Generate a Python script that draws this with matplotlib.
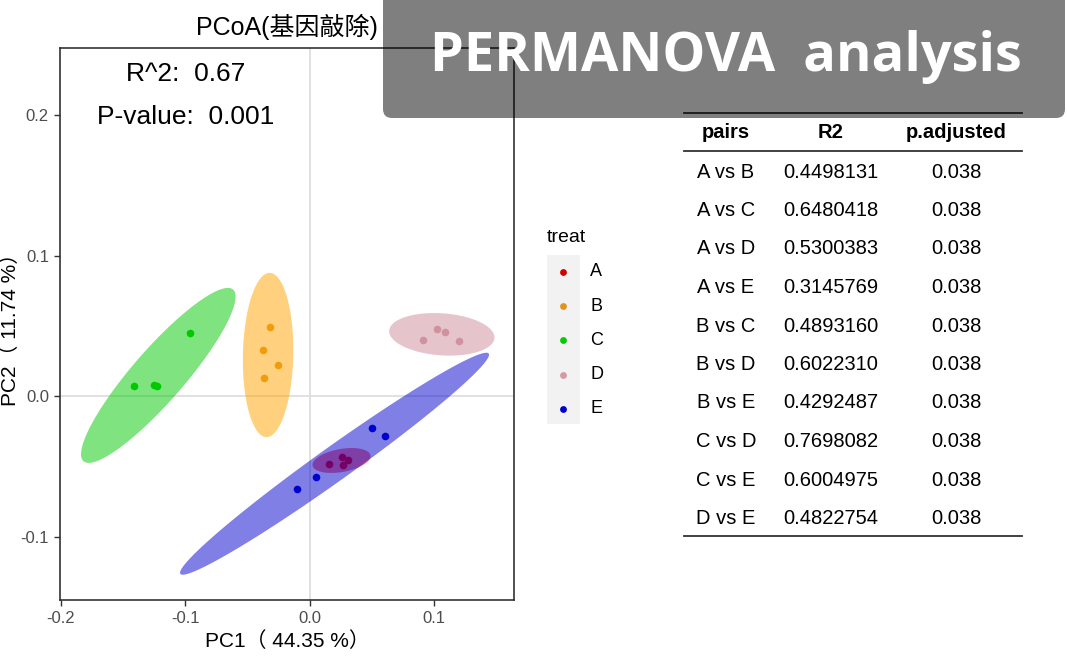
import numpy as np
import matplotlib
matplotlib.use("Agg")
import matplotlib.pyplot as plt
from matplotlib.patches import Polygon, Rectangle, FancyBboxPatch

plt.rcParams['font.family'] = ['Liberation Sans', 'Noto Sans CJK SC', 'DejaVu Sans']

# PCoA scores (PC1, PC2) per treatment
treats = ["A", "B", "C", "D", "E"]
pc1 = {"A": [0.0155, 0.0259, 0.0307, 0.0269],
       "B": [-0.0317, -0.0373, -0.0256, -0.0365],
       "C": [-0.0966, -0.1413, -0.1253, -0.1232],
       "D": [0.1021, 0.1083, 0.0907, 0.1200],
       "E": [0.0501, 0.0600, 0.0051, -0.0104]}
pc2 = {"A": [-0.0482, -0.0432, -0.0451, -0.0491],
       "B": [0.0493, 0.0332, 0.0221, 0.0133],
       "C": [0.0450, 0.0071, 0.0078, 0.0071],
       "D": [0.0477, 0.0456, 0.0399, 0.0391],
       "E": [-0.0228, -0.0280, -0.0572, -0.0662]}

# ellipse per group: centre, semi-major vector, semi-minor vector (data units)
ell_centre = {"A": (0.0254, -0.0456), "B": (-0.0336, 0.0294), "C": (-0.1218, 0.0149),
              "D": (0.1060, 0.0441), "E": (0.0198, -0.0479)}
ell_major = {"A": (0.02325, 0.00365), "B": (0.00137, 0.0584), "C": (0.0601, 0.0610),
             "D": (0.0423, -0.00263), "E": (0.1239, 0.0783)}
ell_minor = {"A": (-0.0016, 0.00806), "B": (-0.02024, 0.00038), "C": (-0.01565, 0.01219),
             "D": (0.00117, 0.01491), "E": (-0.00788, 0.00986)}

point_col = {"A": "#D40000", "B": "#E0951A", "C": "#00CC00", "D": "#D49AA6", "E": "#0000D0"}
fill_col = {"A": "#FF0000", "B": "#FFA500", "C": "#00C800", "D": "#CD8B99", "E": "#0000CD"}

r2_total = 0.67
p_total = 0.001
pc1_var = 44.35
pc2_var = 11.74

# pairwise PERMANOVA table
pairs = ["A vs B", "A vs C", "A vs D", "A vs E", "B vs C",
         "B vs D", "B vs E", "C vs D", "C vs E", "D vs E"]
pair_r2 = ["0.4498131", "0.6480418", "0.5300383", "0.3145769", "0.4893160",
           "0.6022310", "0.4292487", "0.7698082", "0.6004975", "0.4822754"]
p_adj = ["0.038"] * 10

W, H = 1067, 667
fig = plt.figure(figsize=(W / 100, H / 100), dpi=100)
fig.patch.set_facecolor("white")

ax = fig.add_axes([60 / W, 1 - 600 / H, (514 - 60) / W, (600 - 48) / H])
ax.set_zorder(1)
ax.set_xlim(-0.2008, 0.164)
ax.set_ylim(-0.1448, 0.2477)
ax.axvline(0, color="#dcdcdc", lw=1.2, zorder=1)
ax.axhline(0, color="#dcdcdc", lw=1.2, zorder=1)

t = np.linspace(0, 2 * np.pi, 300)
for g in treats:
    ax.scatter(pc1[g], pc2[g], s=30, color=point_col[g], zorder=2, linewidths=0)
for g in treats:
    cx, cy = ell_centre[g]
    ux, uy = ell_major[g]
    vx, vy = ell_minor[g]
    xs = cx + ux * np.cos(t) + vx * np.sin(t)
    ys = cy + uy * np.cos(t) + vy * np.sin(t)
    ax.add_patch(Polygon(np.column_stack([xs, ys]), closed=True, facecolor=fill_col[g],
                         edgecolor="none", alpha=0.5, zorder=3))

ax.text(-0.1, 0.229, "R^2:  %.2f" % r2_total, ha="center", va="center", fontsize=19, zorder=4)
ax.text(-0.1, 0.1986, "P-value:  %.3f" % p_total, ha="center", va="center", fontsize=19, zorder=4)

ax.set_xticks([-0.2, -0.1, 0.0, 0.1])
ax.set_xticklabels(["-0.2", "-0.1", "0.0", "0.1"])
ax.set_yticks([-0.1, 0.0, 0.1, 0.2])
ax.set_yticklabels(["-0.1", "0.0", "0.1", "0.2"])
ax.tick_params(colors="#333333", labelcolor="#4d4d4d", labelsize=12, length=4, width=1, pad=4)
for s in ax.spines.values():
    s.set_color("#333333")
    s.set_linewidth(1.2)

ax.set_title("PCoA(基因敲除)", fontsize=18, pad=9)
ax.set_xlabel("PC1（ %.2f %%）" % pc1_var, fontsize=15)
ax.xaxis.set_label_coords(0.5, -0.056)
fig.text(10 / W, 1 - 324 / H, "PC2（ %.2f %%）" % pc2_var, rotation=90,
         ha="center", va="center", fontsize=15)

# overlay in pixel units for legend, table and banner
ov = fig.add_axes([0, 0, 1, 1])
ov.set_zorder(2)
ov.set_xlim(0, W)
ov.set_ylim(H, 0)
ov.axis("off")

# legend
ov.text(547, 237, "treat", ha="left", va="center", fontsize=14)
ov.add_patch(Rectangle((547, 255), 33, 169, facecolor="#f2f2f2", edgecolor="none"))
for i, g in enumerate(treats):
    ly = 272 + i * 34.2
    ov.scatter([563], [ly], s=24, color=point_col[g], linewidths=0, zorder=3)
    ov.text(590, ly, g, ha="left", va="center", fontsize=13)

# table
col_x = [726, 830.5, 956]
ov.plot([684, 1022], [113, 113], color="#333333", lw=1.3)
ov.plot([684, 1022], [151, 151], color="#333333", lw=1.3)
ov.plot([684, 1022], [536, 536], color="#333333", lw=1.3)
for x, h in zip(col_x, ["pairs", "R2", "p.adjusted"]):
    ov.text(x, 133, h, ha="center", va="center", fontsize=14.5, fontweight="bold")
for i in range(len(pairs)):
    ry = 172 + i * 38.5
    ov.text(col_x[0], ry, pairs[i], ha="center", va="center", fontsize=14.5)
    ov.text(col_x[1], ry, pair_r2[i], ha="center", va="center", fontsize=14.5)
    ov.text(col_x[2], ry, p_adj[i], ha="center", va="center", fontsize=14.5)

# banner
ov.add_patch(FancyBboxPatch((383, -20), 682, 138, boxstyle="round,pad=0,rounding_size=9",
                            facecolor="black", edgecolor="none", alpha=0.5, zorder=5))
ov.text(726, 57, "PERMANOVA  analysis", ha="center", va="center", color="white",
        fontsize=39, fontweight="bold", family="Open Sans", zorder=6)

fig.savefig("out.png", dpi=100)
